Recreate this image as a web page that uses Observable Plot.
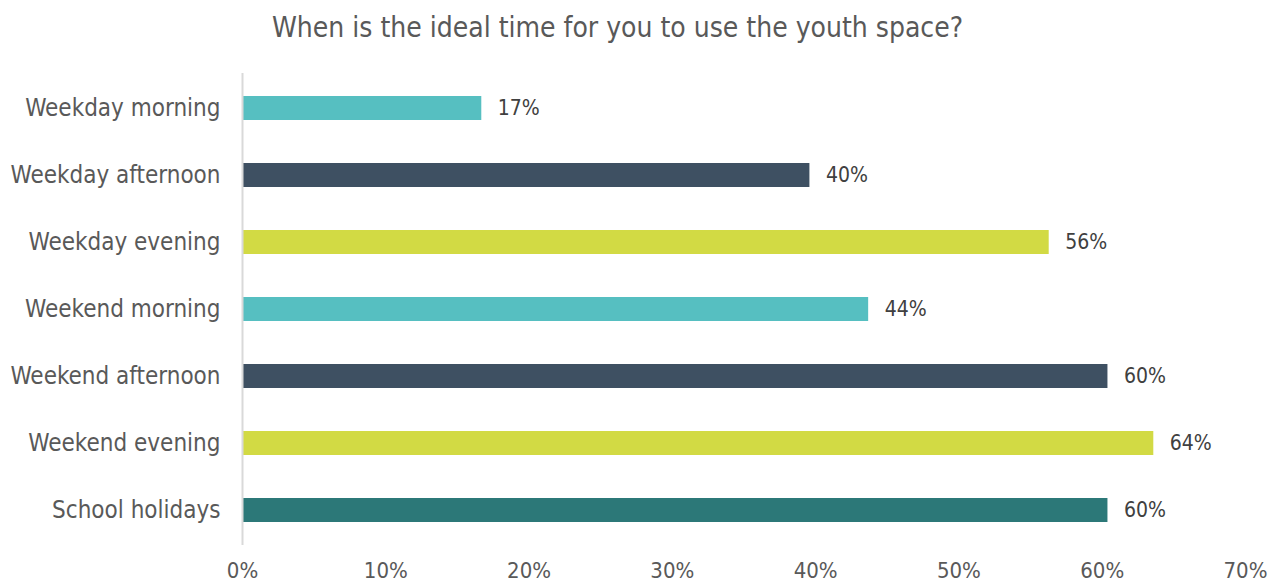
<!DOCTYPE html>
<html><head><meta charset="utf-8">
<script src="https://cdn.jsdelivr.net/npm/d3@7"></script>
<script src="https://cdn.jsdelivr.net/npm/@observablehq/plot@0.6"></script>
<style>
body{margin:0;background:#fff;}
#title{height:55px;line-height:55px;text-align:center;padding-right:34px;font-family:"DejaVu Sans Condensed","DejaVu Sans",sans-serif;font-size:28px;color:#595959;white-space:nowrap;}
#chart svg{display:block;}
</style></head>
<body>
<div id="title">When is the ideal time for you to use the youth space?</div>
<div id="chart"></div>
<script>
const categories = ["Weekday morning","Weekday afternoon","Weekday evening","Weekend morning","Weekend afternoon","Weekend evening","School holidays"];
const values = [16.7, 39.6, 56.3, 43.7, 60.4, 63.6, 60.4];
const labels = ["17%","40%","56%","44%","60%","64%","60%"];
const colors = ["#56BFC1","#3E5062","#D2DA44","#56BFC1","#3E5062","#D2DA44","#2C7878"];
const xTicks = [0,10,20,30,40,50,60,70];

const data = categories.map((c,i)=>({cat:c, value:values[i], label:labels[i], color:colors[i]}));
const font = '"DejaVu Sans Condensed","DejaVu Sans",sans-serif';

const chart = Plot.plot({
  width: 1269,
  height: 529,
  marginLeft: 242,
  marginRight: 24,
  marginTop: 18,
  marginBottom: 39,
  style: {fontFamily: font, fontSize: "22px", color: "#595959", background: "#fff"},
  x: {domain: [0,70], ticks: xTicks, tickFormat: d => d + "%", tickSize: 0, tickPadding: 17, label: null},
  y: {domain: categories, paddingInner: 0.64, paddingOuter: 0.33, tickSize: 0, tickPadding: 22, label: null},
  marks: [
    Plot.barX(data, {y: "cat", x: "value", fill: "color"}),
    Plot.ruleX([0], {stroke: "#d9d9d9", strokeWidth: 2}),
    Plot.text(data, {y: "cat", x: "value", text: "label", dx: 16, textAnchor: "start", fill: "#404040", fontSize: 21}),
    Plot.axisY({tickSize: 0, tickPadding: 22, fontSize: 24, label: null})
  ]
});
document.getElementById("chart").appendChild(chart);
</script>
</body></html>
